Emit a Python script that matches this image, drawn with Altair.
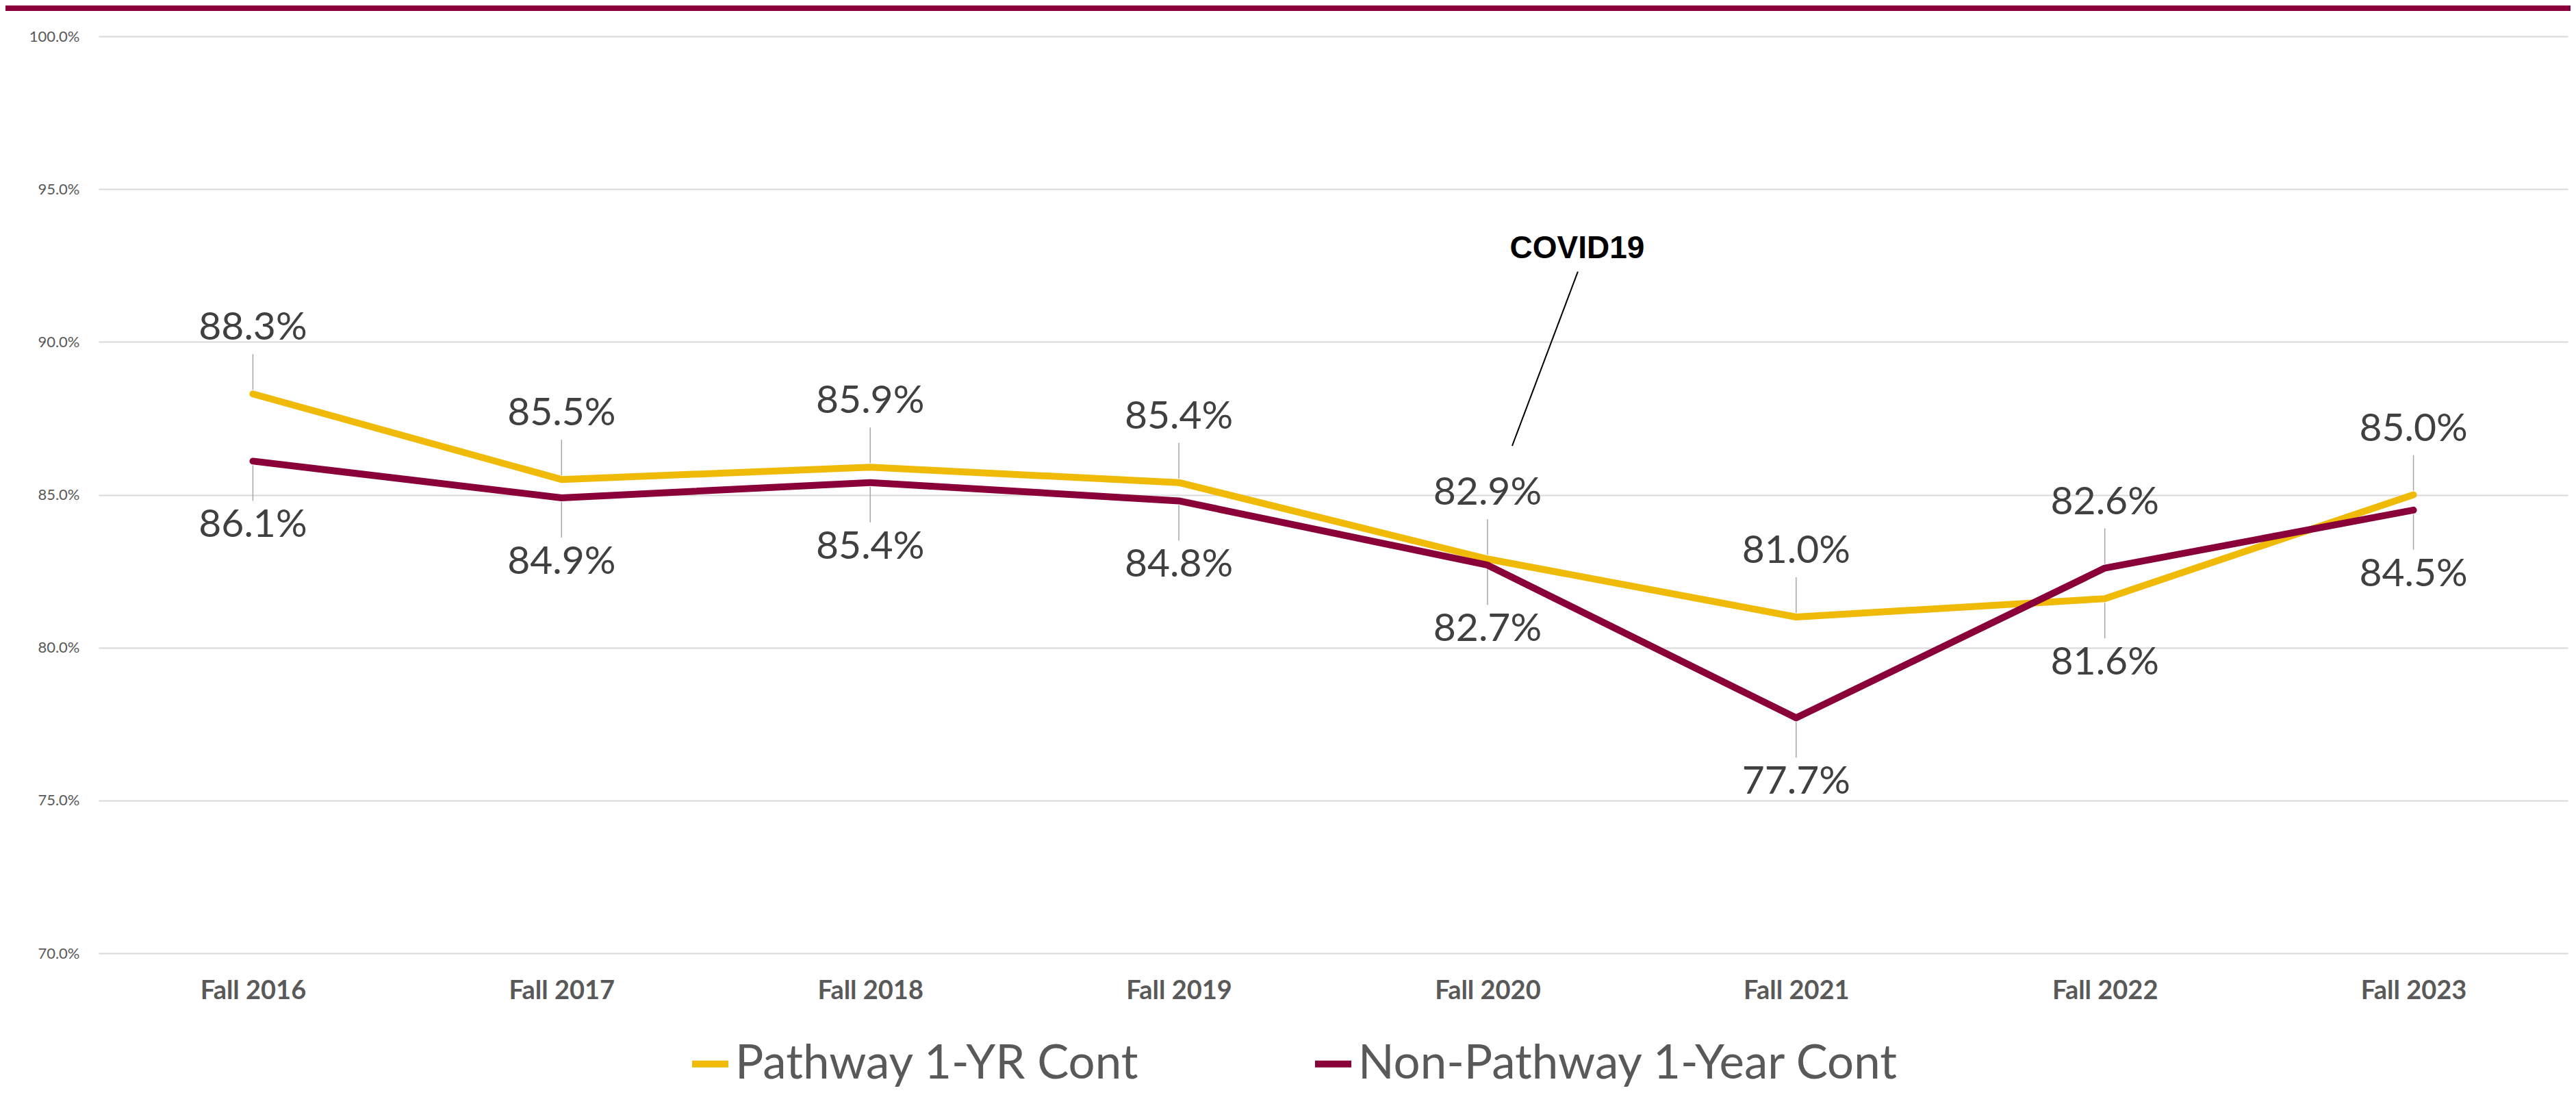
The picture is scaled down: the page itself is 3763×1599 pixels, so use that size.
import altair as alt
import pandas as pd

# ---- data ----
categories = ["Fall 2016", "Fall 2017", "Fall 2018", "Fall 2019",
              "Fall 2020", "Fall 2021", "Fall 2022", "Fall 2023"]
pathway = [88.3, 85.5, 85.9, 85.4, 82.9, 81.0, 81.6, 85.0]
non_pathway = [86.1, 84.9, 85.4, 84.8, 82.7, 77.7, 82.6, 84.5]
pathway_side = ["above", "above", "above", "above", "above", "above", "below", "above"]
non_pathway_side = ["below", "below", "below", "below", "below", "below", "above", "below"]
series_names = ["Pathway 1-YR Cont", "Non-Pathway 1-Year Cont"]
series_colors = ["#EFBA08", "#8A0038"]
y_ticks = [70, 75, 80, 85, 90, 95, 100]

annot_text = ["COVID19"]
annot_cat = ["Fall 2020"]
annot_text_y = [93.05]
annot_line_from = [86.6]
annot_line_to = [92.3]

rows = []
for c, v, s in zip(categories, pathway, pathway_side):
    rows.append({"cat": c, "value": v, "series": series_names[0], "side": s})
for c, v, s in zip(categories, non_pathway, non_pathway_side):
    rows.append({"cat": c, "value": v, "series": series_names[1], "side": s})
df = pd.DataFrame(rows)

annot = pd.DataFrame({"cat": annot_cat, "text": annot_text, "ty": annot_text_y,
                      "ly": annot_line_from, "ly2": annot_line_to})

W, H = 3607, 1339

x_enc = alt.X("cat:N", sort=categories,
              scale=alt.Scale(type="point", padding=0.5),
              axis=alt.Axis(title=None, labelAngle=0, domain=False, ticks=False, tickSize=0,
                            grid=False, labelFont="Lato", labelFontSize=38,
                            labelFontWeight="bold", labelColor="#595959",
                            labelPadding=36))
y_scale = alt.Scale(domain=[70, 100], nice=False, zero=False)
y_enc = alt.Y("value:Q", scale=y_scale,
              axis=alt.Axis(title=None, values=y_ticks, domain=False, ticks=False, tickSize=0,
                            grid=True, gridColor="#D9D9D9", gridWidth=2,
                            labelFont="Lato", labelFontSize=22, labelColor="#595959",
                            labelPadding=28,
                            labelExpr="format(datum.value, '.1f') + '%'"))
color_enc = alt.Color("series:N",
                      scale=alt.Scale(domain=series_names, range=series_colors),
                      legend=alt.Legend(title=None, orient="none", direction="horizontal",
                                        legendX=859, legendY=1466,
                                        symbolType="stroke", symbolSize=2809,
                                        symbolStrokeWidth=10,
                                        labelFont="Lato", labelFontSize=69,
                                        labelColor="#595959", labelOffset=2,
                                        columnPadding=236, padding=0,
                                        labelLimit=1000))

base = alt.Chart(df)

top_band = alt.Chart(df).mark_rect(color="#8A0038").encode(
    x=alt.value(-136), x2=alt.value(W + 4), y=alt.value(-45), y2=alt.value(-37))

line_style = dict(strokeWidth=10, strokeCap="round", strokeJoin="round")
line_p = base.transform_filter(alt.datum.series == series_names[0]).mark_line(
    **line_style).encode(x=x_enc, y=y_enc, color=color_enc)
line_n = base.transform_filter(alt.datum.series == series_names[1]).mark_line(
    **line_style).encode(x=x_enc, y=y_enc, color=color_enc)

lead_above = base.transform_filter(alt.datum.side == "above").mark_rule(
    color="#A6A6A6", strokeWidth=1.5, yOffset=-6, y2Offset=-58).encode(
    x=alt.X("cat:N", sort=categories), y="value:Q", y2="value:Q")
lead_below = base.transform_filter(alt.datum.side == "below").mark_rule(
    color="#A6A6A6", strokeWidth=1.5, yOffset=6, y2Offset=58).encode(
    x=alt.X("cat:N", sort=categories), y="value:Q", y2="value:Q")

label_style = dict(font="Lato", fontSize=57, color="#404040", align="center",
                   baseline="middle")
text_above = base.transform_filter(alt.datum.side == "above").transform_calculate(
    lbl="format(datum.value, '.1f') + '%'").mark_text(dy=-96, **label_style).encode(
    x=alt.X("cat:N", sort=categories), y="value:Q", text="lbl:N")
text_below = base.transform_filter(alt.datum.side == "below").transform_calculate(
    lbl="format(datum.value, '.1f') + '%'").mark_text(dy=94, **label_style).encode(
    x=alt.X("cat:N", sort=categories), y="value:Q", text="lbl:N")

annot_line = alt.Chart(annot).mark_rule(color="#000000", strokeWidth=2,
                                        xOffset=36, x2Offset=132).encode(
    x=alt.X("cat:N", sort=categories), x2="cat:N", y="ly:Q", y2="ly2:Q")
annot_label = alt.Chart(annot).mark_text(font="Liberation Sans", fontSize=46,
                                         fontWeight="bold", color="#000000",
                                         align="center", baseline="middle",
                                         xOffset=131).encode(
    x=alt.X("cat:N", sort=categories), y="ty:Q", text="text:N")

chart = alt.layer(
    top_band, line_p, line_n, lead_above, lead_below, text_above, text_below,
    annot_line, annot_label
).properties(
    width=W, height=H,
    padding={"left": 136, "top": 45, "right": 4, "bottom": 199},
    autosize=alt.AutoSizeParams(type="none"),
    background="white"
).configure_view(stroke=None)

chart.save("out.html", embed_options={"renderer": "svg", "actions": False})
